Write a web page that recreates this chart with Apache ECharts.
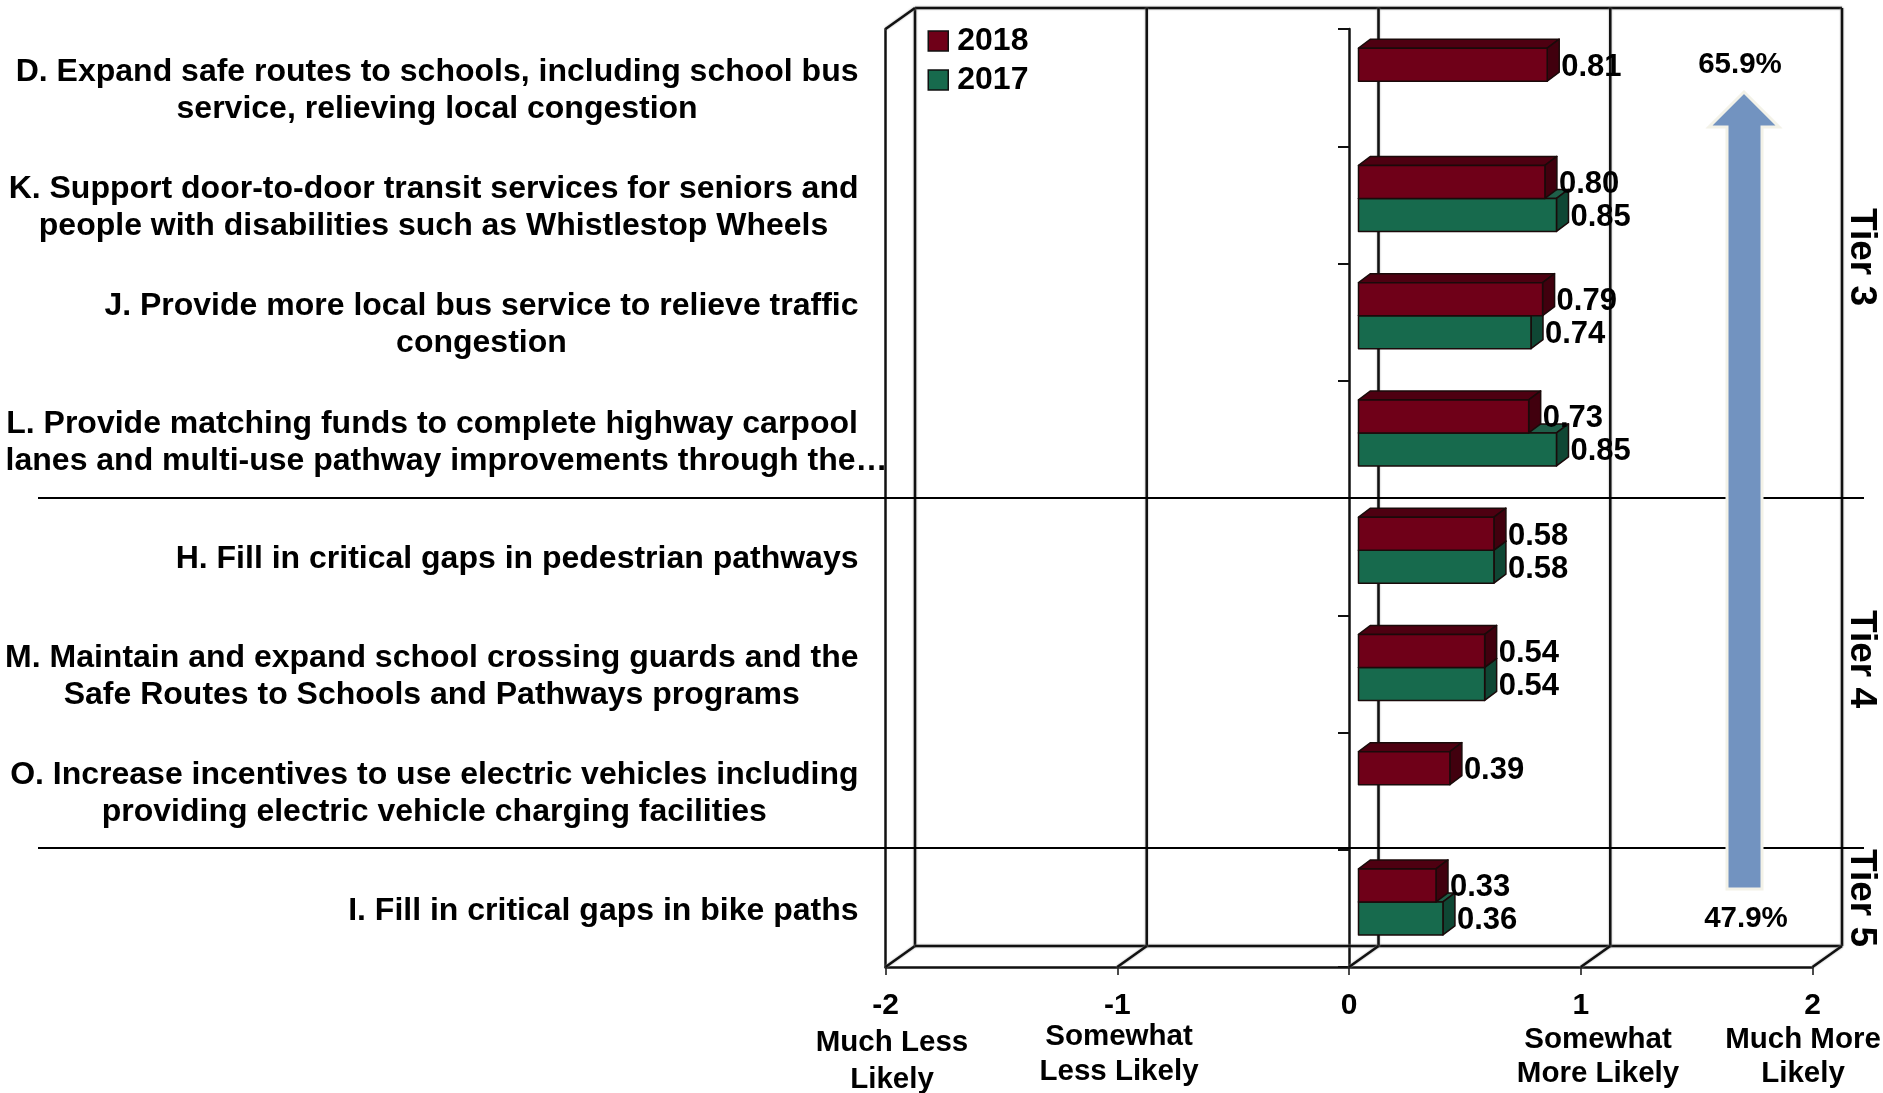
<!DOCTYPE html>
<html><head><meta charset="utf-8">
<style>html,body{margin:0;padding:0;background:#fff}#c{width:1883px;height:1093px}</style>
<script src="https://cdn.jsdelivr.net/npm/echarts@6/dist/echarts.min.js"></script>
</head><body><div id="c"></div>
<script>
const categories = [
  ["D. Expand safe routes to schools, including school bus","service, relieving local congestion"],
  ["K. Support door-to-door transit services for seniors and","people with disabilities such as Whistlestop Wheels"],
  ["J. Provide more local bus service to relieve traffic","congestion"],
  ["L. Provide matching funds to complete highway carpool","lanes and multi-use pathway improvements through the…"],
  ["H. Fill in critical gaps in pedestrian pathways"],
  ["M. Maintain and expand school crossing guards and the","Safe Routes to Schools and Pathways programs"],
  ["O. Increase incentives to use electric vehicles including","providing electric vehicle charging facilities"],
  ["I. Fill in critical gaps in bike paths"]
];
const values2018 = [0.81,0.80,0.79,0.73,0.58,0.54,0.39,0.33];
const values2017 = [null,0.85,0.74,0.85,0.58,0.54,null,0.36];
const xTicks = [-2,-1,0,1,2];
const scaleNotes = [
  {lines:["Much Less","Likely"], x:892, y:[1043,1080]},
  {lines:["Somewhat","Less Likely"], x:1119, y:[1037,1072]},
  {lines:["Somewhat","More Likely"], x:1598, y:[1040,1074]},
  {lines:["Much More","Likely"], x:1803, y:[1040,1074]}
];
const tiers = [{t:"Tier 3",y:257},{t:"Tier 4",y:659},{t:"Tier 5",y:898}];
const dividerYs = [498,848];

const FONT = '"Liberation Sans", Arial, sans-serif';
const INK = '#111';
const DX = 29.5, DY = 21;              // depth of the 3D box
const BAR_DX = 9.5, BAR_DY = 6.5;      // front of the bars inside the box
const BAR_DEPTH_X = 12, BAR_DEPTH_Y = 9;
const FACES = {
  2018:{front:'#6f0018', top:'#4e0011', side:'#41000e'},
  2017:{front:'#176a4d', top:'#1f5f49', side:'#0f4734'}
};
const line = (x1,y1,x2,y2,w) => ({type:'line',shape:{x1,y1,x2,y2},
  style:{stroke:INK,lineWidth:w||2.5,shadowBlur:2,shadowColor:'#999'}});

function frameItem(params, api){
  const cs = params.coordSys, v = api.value(0);
  const fx = api.coord([v,0])[0], bottom = cs.y+cs.height, top = cs.y;
  const ch = [
    line(fx+DX,top-DY,fx+DX,bottom-DY),
    line(fx,bottom,fx+DX,bottom-DY)
  ];
  if (params.dataIndex===0) {
    const r = cs.x+cs.width;
    ch.push(line(cs.x+DX,top-DY,r+DX,top-DY));
    ch.push(line(cs.x+DX,bottom-DY,r+DX,bottom-DY));
    ch.push(line(cs.x,top,cs.x+DX,top-DY));
  }
  return {type:'group',children:ch};
}
function barItem(year){
  const f = FACES[year];
  return function(params, api){
    const val = api.value(0), cat = api.value(1);
    const c0 = api.coord([0,cat]), c1 = api.coord([val,cat]);
    const h = api.size([0,1])[1]*33/117.25;
    const l = c0[0]+BAR_DX, r = c1[0]+BAR_DX+1;
    const t = year===2018 ? c0[1]-BAR_DY-h : c0[1]-BAR_DY;
    const b = t+h;
    const stroke = {stroke:'#1a0a0a',lineWidth:1.5,lineJoin:'round'};
    return {type:'group',children:[
      {type:'polygon',shape:{points:[[l,t],[l+BAR_DEPTH_X,t-BAR_DEPTH_Y],[r+BAR_DEPTH_X,t-BAR_DEPTH_Y],[r,t]]},style:Object.assign({fill:f.top},stroke)},
      {type:'polygon',shape:{points:[[r,t],[r+BAR_DEPTH_X,t-BAR_DEPTH_Y],[r+BAR_DEPTH_X,b-BAR_DEPTH_Y],[r,b]]},style:Object.assign({fill:f.side},stroke)},
      {type:'rect',shape:{x:l,y:t,width:r-l,height:h},style:Object.assign({fill:f.front},stroke)},
      {type:'text',z2:100,x:r+14,y:(t+b)/2+2.5,style:{text:val.toFixed(2),font:'bold 31px '+FONT,fill:'#000',textAlign:'left',textVerticalAlign:'middle'}}
    ]};
  };
}
const toData = arr => arr.map((v,i)=>[v,i]).filter(d=>d[0]!==null);

const graphic = [];
dividerYs.forEach(y=>graphic.push({type:'line',z:5,shape:{x1:38,y1:y,x2:1864,y2:y},style:{stroke:'#000',lineWidth:2}}));
graphic.push({type:'polygon',z:6,shape:{points:[[1744,92],[1779,127],[1762,127],[1762,889],[1727,889],[1727,127],[1709,127]]},
  style:{fill:'#7293c0',stroke:'#f3f2e8',lineWidth:3}});
graphic.push({type:'text',z:7,x:1740,y:65,style:{text:'65.9%',font:'bold 29.5px '+FONT,fill:'#000',textAlign:'center',textVerticalAlign:'middle'}});
graphic.push({type:'text',z:7,x:1746,y:919,style:{text:'47.9%',font:'bold 29.5px '+FONT,fill:'#000',textAlign:'center',textVerticalAlign:'middle'}});
tiers.forEach(o=>graphic.push({type:'text',z:7,x:1861,y:o.y,rotation:-Math.PI/2,
  style:{text:o.t,font:'bold 37px '+FONT,fill:'#000',textAlign:'center',textVerticalAlign:'middle'}}));
scaleNotes.forEach(n=>n.lines.forEach((s,i)=>graphic.push({type:'text',z:7,x:n.x,y:n.y[i],
  style:{text:s,font:'bold 29.5px '+FONT,fill:'#000',textAlign:'center',textVerticalAlign:'middle'}})));

const chart = echarts.init(document.getElementById('c'),null,{renderer:'canvas'});
chart.setOption({
  animation:false,
  backgroundColor:'#fff',
  grid:{left:885.5,top:29,width:927,height:938,containLabel:false},
  legend:{orient:'vertical',left:922.5,top:20,itemWidth:20,itemHeight:20,itemGap:7,selectedMode:false,
    textStyle:{fontFamily:FONT,fontWeight:'bold',fontSize:32,color:'#000',padding:[0,0,0,4]},
    data:[
      {name:'2018',icon:'rect',itemStyle:{color:FACES[2018].front,borderColor:INK,borderWidth:1.5}},
      {name:'2017',icon:'rect',itemStyle:{color:FACES[2017].front,borderColor:INK,borderWidth:1.5}}
    ]},
  xAxis:{type:'value',min:-2,max:2,interval:1,
    axisLine:{show:true,onZero:false,lineStyle:{color:INK,width:2.5}},
    axisTick:{show:true,length:8,lineStyle:{color:INK,width:1.5}},
    splitLine:{show:false},
    axisLabel:{margin:24,color:'#000',fontFamily:FONT,fontWeight:'bold',fontSize:30,
      formatter:v=>String(v)}},
  yAxis:[
    {type:'category',inverse:true,position:'left',data:categories.map((c,i)=>String(i)),
     axisLine:{show:true,onZero:false,lineStyle:{color:INK,width:2.5}},
     axisTick:{show:false},
     axisLabel:{interval:0,margin:-2,align:'right',hideOverlap:false,padding:[6,0,0,0],
       fontFamily:FONT,fontWeight:'bold',fontSize:32,lineHeight:37,color:'#000',
       formatter:(v,i)=>categories[i].map((s,k)=>
         (i===3&&k===1) ? `{c|${s}}` : `{c|${s}}{p| }`).join('\n'),
       rich:{
         c:{align:'center',fontFamily:FONT,fontWeight:'bold',fontSize:32,lineHeight:37,color:'#000'},
         p:{align:'right',width:29,fontSize:32,lineHeight:37}
       }}},
    {type:'category',inverse:true,position:'left',data:categories.map((c,i)=>String(i)),
     axisLine:{show:true,onZero:true,lineStyle:{color:INK,width:2.5}},
     axisTick:{show:true,length:11,lineStyle:{color:INK,width:2}},
     axisLabel:{show:false}}
  ],
  series:[
    {type:'custom',name:'frame',z:1,silent:true,coordinateSystem:'cartesian2d',yAxisIndex:0,
     encode:{x:0,y:1},data:xTicks.map(v=>[v,0]),renderItem:frameItem},
    {type:'custom',name:'2017',z:2,coordinateSystem:'cartesian2d',yAxisIndex:0,
     encode:{x:0,y:1},data:toData(values2017),renderItem:barItem(2017),itemStyle:{color:FACES[2017].front}},
    {type:'custom',name:'2018',z:2,coordinateSystem:'cartesian2d',yAxisIndex:0,
     encode:{x:0,y:1},data:toData(values2018),renderItem:barItem(2018),itemStyle:{color:FACES[2018].front}}
  ],
  graphic:graphic
});
</script></body></html>
